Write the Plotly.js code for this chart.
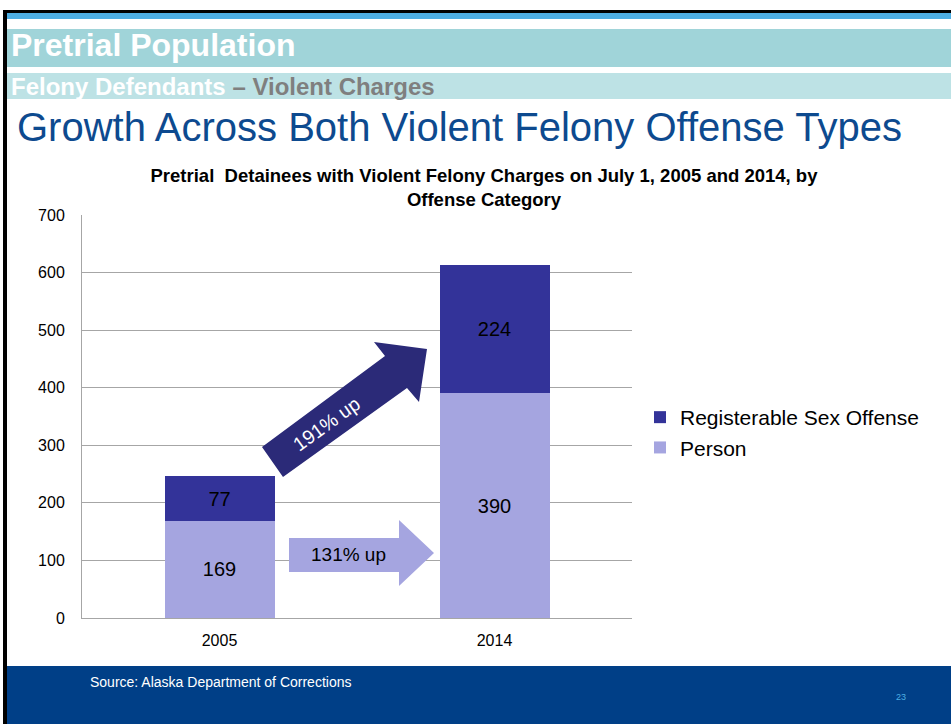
<!DOCTYPE html>
<html>
<head>
<meta charset="utf-8">
<script src="https://cdn.plot.ly/plotly-3.0.1.min.js"></script>
<style>
  html, body { margin: 0; padding: 0; background: #ffffff; }
  #chart { width: 951px; height: 724px; }
</style>
</head>
<body>
<div id="chart"></div>
<script>
// ---- data ----
const years = ["2005", "2014"];
const personValues = [169, 390];
const sexOffenseValues = [77, 224];
const seriesNames = ["Person", "Registerable Sex Offense"];
const yTicks = [0, 100, 200, 300, 400, 500, 600, 700];
const growthLabels = ["131% up", "191% up"];

// ---- layout helpers (pixel -> paper) ----
const W = 951, H = 724;
const M = { l: 82, r: 319, t: 215, b: 106 };
const PW = W - M.l - M.r, PH = H - M.t - M.b;
const X = px => (px - M.l) / PW;
const Y = py => (H - M.b - py) / PH;
const FONT = "Arial, 'Liberation Sans', sans-serif";

function rect(x0, y0, x1, y1, color, layer) {
  return { type: "rect", xref: "paper", yref: "paper",
    x0: X(x0), x1: X(x1), y0: Y(y1), y1: Y(y0),
    fillcolor: color, line: { width: 0 }, layer: layer || "below" };
}
function poly(pts, color) {
  const d = pts.map((p, i) => (i ? "L" : "M") + X(p[0]).toFixed(5) + "," + Y(p[1]).toFixed(5)).join(" ") + " Z";
  return { type: "path", xref: "paper", yref: "paper", path: d,
    fillcolor: color, line: { width: 0 }, layer: "above" };
}

const DARK = "#333399", LIGHT = "#a5a5e0";

const traces = [
  { type: "bar", x: years, y: personValues, name: seriesNames[0],
    marker: { color: LIGHT }, texttemplate: "%{y}", textposition: "inside",
    insidetextanchor: "middle", textangle: 0,
    textfont: { family: FONT, size: 20, color: "#000000" } },
  { type: "bar", x: years, y: sexOffenseValues, name: seriesNames[1],
    marker: { color: DARK }, texttemplate: "%{y}", textposition: "inside",
    insidetextanchor: "middle", textangle: 0,
    textfont: { family: FONT, size: 20, color: "#000000" } }
];

const shapes = [
  rect(3, 10, W, 13, "#000000"),
  rect(3, 10, 7, H, "#000000"),
  rect(7, 13, W, 19, "#4daee3"),
  rect(7, 29, W, 67, "#a0d4d9"),
  rect(7, 73, W, 99, "#bde2e5"),
  rect(7, 666, W, H, "#003f87"),
  // growth arrows
  poly([[289, 538], [399, 538], [399, 520], [434, 553], [399, 586], [399, 572], [289, 572]], LIGHT),
  poly([[262, 447], [385, 356], [374, 342], [427, 349], [419, 402], [407, 388], [283, 477]], "#2b2a78")
];

const annotations = [
  { text: "<b>Pretrial Population</b>", x: X(9), y: Y(45), xanchor: "left", yanchor: "middle",
    font: { family: FONT, size: 32, color: "#ffffff" } },
  { text: "<b>Felony Defendants</b> <b><span style='color:#7f7f7f'>– Violent Charges</span></b>",
    x: X(9), y: Y(86), xanchor: "left", yanchor: "middle",
    font: { family: FONT, size: 24, color: "#ffffff" } },
  { text: "Growth Across Both Violent Felony Offense Types", x: X(15), y: Y(127),
    xanchor: "left", yanchor: "middle",
    font: { family: FONT, size: 40, color: "#0d4a8f" } },
  { text: "Source: Alaska Department of Corrections", x: X(88), y: Y(682),
    xanchor: "left", yanchor: "middle",
    font: { family: FONT, size: 14, color: "#ffffff" } },
  { text: "23", x: X(901), y: Y(697), xanchor: "center", yanchor: "middle",
    font: { family: FONT, size: 9, color: "#4daee3" } },
  { text: growthLabels[0], x: X(348), y: Y(554), xanchor: "center", yanchor: "middle",
    font: { family: FONT, size: 19, color: "#000000" } },
  { text: growthLabels[1], x: X(326), y: Y(424), xanchor: "center", yanchor: "middle",
    textangle: -36, font: { family: FONT, size: 19.5, color: "#ffffff" } }
].map(a => Object.assign({ xref: "paper", yref: "paper", showarrow: false }, a));

const layout = {
  width: W, height: H,
  margin: M,
  paper_bgcolor: "#ffffff", plot_bgcolor: "rgba(0,0,0,0)",
  barmode: "stack", bargap: 0.6,
  font: { family: FONT, color: "#000000" },
  title: {
    text: "<b>Pretrial\u00a0\u00a0Detainees with Violent Felony Charges on July 1, 2005 and 2014, by<br>Offense Category</b>",
    xref: "paper", x: X(484), xanchor: "center",
    yref: "container", y: 1 - 182 / H, yanchor: "middle",
    font: { family: FONT, size: 18.5, color: "#000000" }
  },
  xaxis: { type: "category", showline: true, linecolor: "#a6a6a6", linewidth: 1,
    ticks: "", ticklabelstandoff: 8, tickfont: { family: FONT, size: 16, color: "#000000" },
    fixedrange: true },
  yaxis: { range: [0, 700], tickvals: yTicks, showgrid: true, gridcolor: "#a6a6a6", gridwidth: 1,
    showline: true, linecolor: "#a6a6a6", linewidth: 1, zeroline: false,
    ticks: "", ticklabelstandoff: 13, tickfont: { family: FONT, size: 16, color: "#000000" },
    fixedrange: true },
  showlegend: true,
  legend: { x: X(640), xanchor: "left", y: Y(397), yanchor: "top", traceorder: "reversed",
    font: { family: FONT, size: 21, color: "#000000" }, bgcolor: "rgba(0,0,0,0)" },
  shapes: shapes,
  annotations: annotations,
  hovermode: false
};

Plotly.newPlot("chart", traces, layout, { displayModeBar: false, staticPlot: true });
</script>
</body>
</html>
